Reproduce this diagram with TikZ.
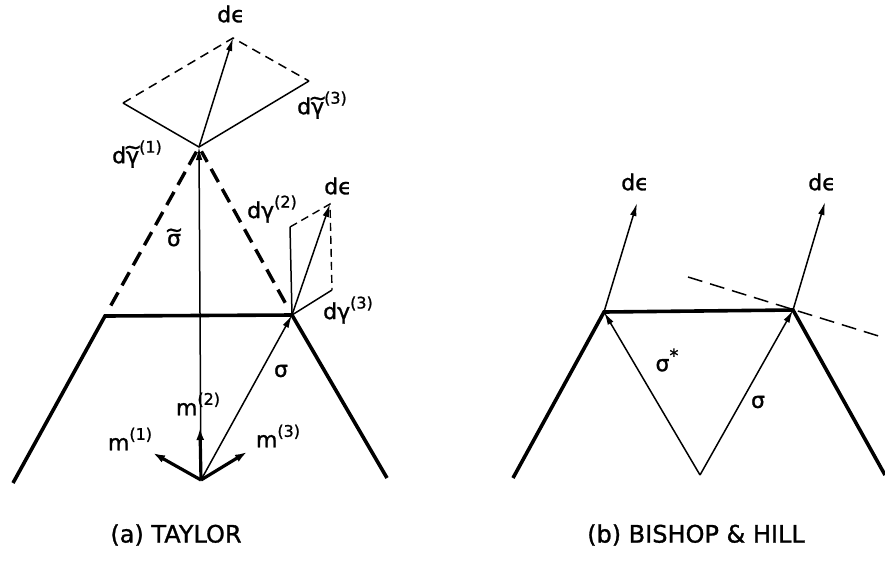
\documentclass[tikz,border=0pt]{standalone}
\usepackage{fontspec}
\setmainfont{DejaVu Sans}
\newfontfamily\lblfont{DejaVu Sans}[FakeBold=1.2]
\usetikzlibrary{arrows.meta}
\newcommand\tld[1]{{\ooalign{#1\cr\hidewidth\raisebox{0.40em}{\textasciitilde}\hidewidth\cr}}}
\newcommand\sups[1]{\raisebox{0.48em}{\fontsize{16}{16}\selectfont(#1)}}
\tikzset{
  lbl/.style={inner sep=0pt, font=\lblfont\fontsize{22}{24}\selectfont},
  captext/.style={inner sep=0pt, font=\lblfont\fontsize{24}{26}\selectfont},
  thinln/.style={line width=1.5pt},
  thickln/.style={line width=3.6pt},
  arr/.style={-{Latex[length=13pt,width=6.5pt]}},
  thickarr/.style={line width=3.2pt,-{Latex[length=12pt,width=8pt]}},
  bigdash/.style={line width=3.4pt, dash pattern=on 15pt off 8pt},
  smalldash/.style={line width=1.5pt, dash pattern=on 9pt off 6pt},
}
\begin{document}
\begin{tikzpicture}[x=1pt,y=-1pt]
\useasboundingbox (0,0) rectangle (885,560);
% ---------- (a) Taylor ----------
\coordinate (A1) at (13,483);
\coordinate (A2) at (105,316);
\coordinate (S) at (292,315);
\coordinate (A4) at (387,478);
\coordinate (O) at (201,480);
\coordinate (P1) at (199,147);
\coordinate (L1) at (123,103);
\coordinate (R1) at (309,81);
\coordinate (T1) at (233,38);
\coordinate (C2) at (290,227);
\coordinate (C3) at (332,290);
\coordinate (T2) at (330,204);
\coordinate (M1) at (153,453);
\coordinate (M2) at (200,428);
\coordinate (M3) at (247,452);

\draw[thickln] (A1) -- (A2) -- (S) -- (A4);
\draw[bigdash, shorten <=12pt, shorten >=5pt] (A2) -- (P1);
\draw[bigdash, shorten <=14pt, shorten >=5pt] (S) -- (P1);
\draw[thinln, arr] (O) -- (P1);
\draw[thinln, arr] (O) -- (S);
\draw[thickarr] (O) -- (M1);
\draw[thickarr] (O) -- (M2);
\draw[thickarr] (O) -- (M3);
\draw[thinln] (L1) -- (P1) -- (R1);
\draw[smalldash] (L1) -- (T1) -- (R1);
\draw[thinln, arr] (P1) -- (T1);
\draw[thinln] (C2) -- (S) -- (C3);
\draw[line width=1.4pt, dash pattern=on 8pt off 5pt] (C2) -- (T2) -- (C3);
\draw[thinln, arr] (S) -- (T2);

\node[lbl] (de1) at (231,14) {dϵ};
\node[lbl] (dg1) at (137,152) {d\tld{γ}\sups{1}};
\node[lbl] (dg3) at (322,103) {d\tld{γ}\sups{3}};
\node[lbl] (sgt) at (174,240) {\tld{σ}};
\node[lbl] (dgb2) at (272,209) {dγ\sups{2}};
\node[lbl] (de2) at (338,186) {dϵ};
\node[lbl] (dgb3) at (348,310) {dγ\sups{3}};
\node[lbl] (sg1) at (281,371) {σ};
\node[lbl] (m1) at (130,439) {m\sups{1}};
\node[lbl] (m2) at (198,404) {m\sups{2}};
\node[lbl] (m3) at (278,436) {m\sups{3}};
\node[captext] (capa) at (176,535) {(a) TAYLOR};

% ---------- (b) Bishop & Hill ----------
\coordinate (B1) at (513,478);
\coordinate (B2) at (604,312);
\coordinate (B3) at (793,310);
\coordinate (B4) at (885,475);
\coordinate (O2) at (700,475);
\coordinate (E1) at (637,203);
\coordinate (E2) at (825,202);
\coordinate (D1) at (688,277);
\coordinate (D2) at (885,338);

\draw[thickln] (B1) -- (B2) -- (B3) -- (B4);
\draw[thinln, arr] (O2) -- (B2);
\draw[thinln, arr] (O2) -- (B3);
\draw[thinln, arr] (B2) -- (E1);
\draw[thinln, arr] (B3) -- (E2);
\draw[line width=1.5pt, dash pattern=on 15pt off 8pt] (D1) -- (D2);

\node[lbl] (de3) at (635,182) {dϵ};
\node[lbl] (de4) at (822,182) {dϵ};
\node[lbl] (sgs) at (667,360) {σ\raisebox{0.42em}{\fontsize{18}{18}\selectfont *}};
\node[lbl] (sg2) at (758,402) {σ};
\node[captext] (capb) at (696,535) {(b) BISHOP \& HILL};
\end{tikzpicture}
\end{document}
